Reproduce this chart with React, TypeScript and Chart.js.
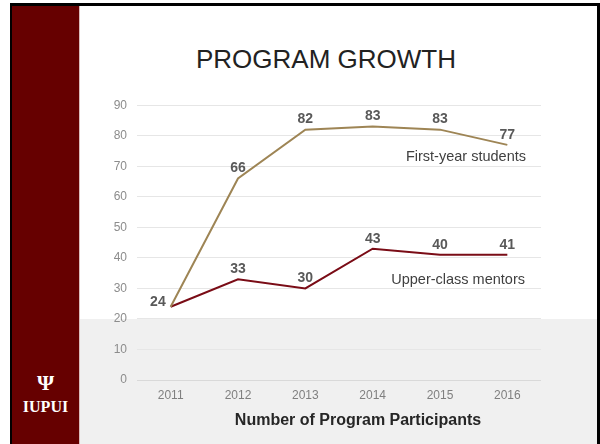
import React, { useEffect, useRef } from "react";
import { Chart, registerables } from "chart.js";

Chart.register(...registerables);

const years = ["2011", "2012", "2013", "2014", "2015", "2016"];
const firstYear = [24, 66, 82, 83, 82, 77];
const mentors = [24, 33, 30, 43, 41, 41];
const firstYearLabels = ["24", "66", "82", "83", "83", "77"];
const mentorLabels = ["", "33", "30", "43", "40", "41"];
const seriesNames = ["First-year students", "Upper-class mentors"];
const yTicks = [0, 10, 20, 30, 40, 50, 60, 70, 80, 90];

const FONT = "'Liberation Sans', Arial, Helvetica, sans-serif";

const labelPlugin = {
  id: "pointLabels",
  afterDatasetsDraw(chart: any) {
    const ctx = chart.ctx;
    ctx.save();
    ctx.font = `bold 14px ${FONT}`;
    ctx.fillStyle = "#595959";
    ctx.textBaseline = "middle";
    chart.data.datasets.forEach((ds: any, di: number) => {
      const meta = chart.getDatasetMeta(di);
      const labels: string[] = ds.pointLabels || [];
      meta.data.forEach((pt: any, i: number) => {
        const txt = labels[i];
        if (!txt) return;
        if (i === 0) {
          ctx.textAlign = "right";
          ctx.fillText(txt, pt.x - 5, pt.y - 5);
        } else {
          ctx.textAlign = "center";
          ctx.fillText(txt, pt.x, pt.y - 10);
        }
      });
    });
    ctx.restore();
  },
};

function LineChart() {
  const ref = useRef<HTMLCanvasElement | null>(null);
  useEffect(() => {
    if (!ref.current) return;
    const chart = new Chart(ref.current, {
      type: "line",
      data: {
        labels: years,
        datasets: [
          {
            label: seriesNames[0],
            data: firstYear,
            borderColor: "#9e8555",
            backgroundColor: "#9e8555",
            borderWidth: 2,
            pointRadius: 0,
            tension: 0,
            pointLabels: firstYearLabels,
          } as any,
          {
            label: seriesNames[1],
            data: mentors,
            borderColor: "#7a0c16",
            backgroundColor: "#7a0c16",
            borderWidth: 2,
            pointRadius: 0,
            tension: 0,
            pointLabels: mentorLabels,
          } as any,
        ],
      },
      options: {
        animation: false,
        responsive: false,
        maintainAspectRatio: false,
        layout: { padding: { left: 0, top: 4, right: 19, bottom: 0 } },
        plugins: {
          legend: { display: false },
          tooltip: { enabled: false },
          title: { display: false },
        },
        scales: {
          x: {
            type: "category",
            offset: true,
            grid: { display: false, drawTicks: false },
            border: { display: false },
            ticks: {
              color: "#7f7f7f",
              font: { family: FONT, size: 12 },
              padding: 8,
            },
            afterFit: (s: any) => {
              s.height = 34;
            },
          },
          y: {
            min: 0,
            max: 90,
            afterBuildTicks: (s: any) => {
              s.ticks = yTicks.map((v) => ({ value: v }));
            },
            grid: {
              drawTicks: false,
              color: (c: any) => (c.tick && c.tick.value === 0 ? "#d9d9d9" : "#e6e6e6"),
              lineWidth: 1,
            },
            border: { display: false },
            ticks: {
              color: "#8c8c8c",
              font: { family: FONT, size: 12 },
              padding: 10,
            },
            afterFit: (s: any) => {
              s.width = 47;
            },
          },
        },
      },
      plugins: [labelPlugin],
    } as any);
    return () => chart.destroy();
  }, []);
  return <canvas ref={ref} width={470} height={326} style={{ width: 470, height: 326, display: "block" }} />;
}

export default function App() {
  return (
    <div
      style={{
        position: "fixed",
        left: 0,
        top: 0,
        width: 600,
        height: 444,
        background: "#ffffff",
        overflow: "hidden",
        fontFamily: FONT,
      }}
    >
      {/* slide frame */}
      <div style={{ position: "absolute", left: 10, top: 3, width: 590, height: 441, background: "#000" }} />
      <div style={{ position: "absolute", left: 12, top: 6, width: 67, height: 438, background: "#660000" }} />
      <div style={{ position: "absolute", left: 79, top: 6, width: 1, height: 438, background: "#d9bcbc" }} />
      <div style={{ position: "absolute", left: 80, top: 6, width: 517, height: 313, background: "#ffffff" }} />
      <div style={{ position: "absolute", left: 80, top: 319, width: 517, height: 125, background: "#f0f0f0" }} />
      {/* logo */}
      <div
        style={{
          position: "absolute",
          left: 12,
          width: 67,
          top: 371,
          textAlign: "center",
          color: "#ffffff",
          fontFamily: "'Liberation Serif', 'DejaVu Serif', serif",
          fontWeight: "bold",
          fontSize: 22,
          lineHeight: "24px",
        }}
      >
        Ψ
      </div>
      <div
        style={{
          position: "absolute",
          left: 12,
          width: 67,
          top: 398,
          textAlign: "center",
          color: "#ffffff",
          fontFamily: "'Liberation Serif', 'DejaVu Serif', serif",
          fontWeight: "bold",
          fontSize: 16,
          lineHeight: "18px",
        }}
      >
        IUPUI
      </div>
      {/* title */}
      <div
        style={{
          position: "absolute",
          left: 126,
          width: 400,
          top: 44,
          textAlign: "center",
          color: "#222222",
          fontSize: 26,
          lineHeight: "30px",
        }}
      >
        PROGRAM GROWTH
      </div>
      {/* chart */}
      <div style={{ position: "absolute", left: 90, top: 88 }}>
        <LineChart />
      </div>
      {/* series annotations */}
      <div
        style={{
          position: "absolute",
          left: 326,
          width: 200,
          top: 147,
          textAlign: "right",
          color: "#404040",
          fontSize: 14.5,
          lineHeight: "18px",
        }}
      >
        {seriesNames[0]}
      </div>
      <div
        style={{
          position: "absolute",
          left: 325,
          width: 200,
          top: 270,
          textAlign: "right",
          color: "#404040",
          fontSize: 14.5,
          lineHeight: "18px",
        }}
      >
        {seriesNames[1]}
      </div>
      {/* x axis caption */}
      <div
        style={{
          position: "absolute",
          left: 158,
          width: 400,
          top: 410,
          textAlign: "center",
          color: "#262626",
          fontWeight: "bold",
          fontSize: 16,
          lineHeight: "20px",
        }}
      >
        Number of Program Participants
      </div>
    </div>
  );
}
